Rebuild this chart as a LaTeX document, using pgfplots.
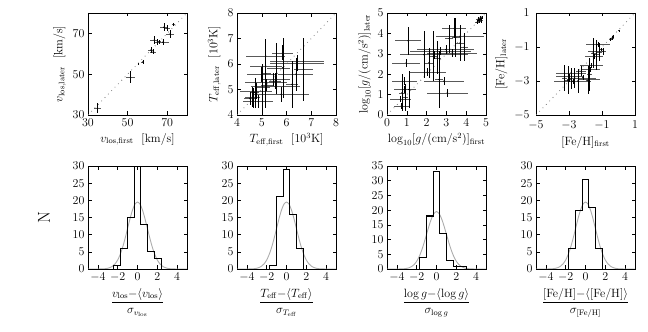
\documentclass[border=0pt]{standalone}
\usepackage{pgfplots}
\pgfplotsset{compat=1.18}
\usepackage{pgfplotstable}

\pgfplotstableread{
x y ex ey
34.8 33.5 2.0 2.5
51.5 48.5 2.2 3.0
57.7 56.0 0.8 0.8
55.5 55.0 0.4 0.4
61.8 61.8 1.5 1.5
63.0 61.0 1.5 1.2
63.5 66.8 2.0 2.0
65.0 65.8 1.5 1.5
67.8 65.7 3.3 1.5
68.3 73.0 2.0 2.0
70.0 72.5 1.5 1.5
71.5 69.8 2.0 2.0
73.2 74.5 0.7 0.7
66.0 66.0 1.0 1.0
}\vlos

\pgfplotstableread{
x y ex ey
4.52 4.64 0.24 0.26
4.65 4.68 0.20 0.39
4.72 4.88 0.15 0.59
4.86 4.52 0.61 0.25
4.76 4.94 0.65 0.30
5.03 5.07 0.30 0.92
5.16 5.63 0.20 1.34
5.00 5.60 0.61 0.30
5.20 5.18 0.25 0.25
5.47 5.40 0.20 0.26
5.54 5.33 0.25 0.30
5.16 5.27 0.85 0.30
5.57 5.14 0.99 0.25
5.60 5.40 0.54 0.20
5.60 5.82 0.40 1.01
5.85 5.85 0.30 1.18
6.22 5.20 0.25 0.92
6.38 5.60 0.71 0.65
6.69 5.79 0.40 1.24
6.42 6.01 1.09 0.30
6.42 6.12 1.09 0.25
5.16 5.92 0.65 0.25
5.16 6.31 0.78 0.35
5.84 6.44 0.44 0.30
5.78 4.81 1.12 0.30
4.62 4.70 0.30 0.40
}\teff

\pgfplotstableread{
x y ex ey
4.66 4.60 0.10 0.10
4.60 4.70 0.12 0.10
4.75 4.65 0.10 0.12
4.70 4.75 0.08 0.08
4.55 4.55 0.10 0.10
4.80 4.80 0.07 0.07
1.06 3.64 0.68 0.69
3.40 4.25 0.60 0.50
3.47 3.80 0.20 0.94
3.14 3.74 0.20 0.69
3.69 3.53 0.20 0.90
3.90 3.33 0.20 0.69
3.69 3.86 1.23 0.20
2.71 3.13 1.53 0.20
2.97 3.21 1.44 0.20
2.37 2.96 1.70 0.20
3.30 3.05 1.27 0.20
2.34 2.88 0.20 1.22
2.54 2.80 0.20 0.81
2.63 1.74 0.20 1.38
0.97 2.56 0.72 0.20
1.86 2.96 0.20 1.14
2.12 2.56 0.20 0.73
2.03 2.10 0.93 0.20
0.89 1.66 0.64 0.20
2.88 1.66 1.02 0.20
3.05 1.09 1.02 0.20
0.76 1.09 0.15 0.90
1.10 1.25 0.15 0.90
0.89 1.25 0.55 0.15
0.68 0.77 0.51 0.15
0.72 0.44 0.38 0.15
0.93 0.85 0.15 0.65
}\logg

\pgfplotstableread{
x y ex ey
0.04 -0.04 0.05 0.05
-0.39 -0.47 0.10 0.12
-0.47 -0.57 0.10 0.10
-0.33 -0.37 0.08 0.08
-1.54 -1.35 0.15 0.88
-1.34 -1.45 0.15 0.88
-1.14 -1.30 0.15 0.54
-1.24 -0.86 0.71 0.15
-1.34 -1.25 0.51 0.15
-1.49 -1.54 0.56 0.15
-1.04 -1.15 0.10 0.10
-0.93 -1.25 0.20 0.20
-1.75 -2.60 0.15 0.98
-1.65 -2.07 0.71 0.15
-1.70 -2.32 0.56 0.15
-3.27 -2.81 0.15 0.78
-3.07 -2.96 0.15 0.83
-2.87 -2.86 0.15 0.63
-2.66 -2.82 0.15 0.59
-2.46 -3.00 0.15 0.68
-2.87 -2.52 0.91 0.15
-2.97 -2.71 0.81 0.15
-2.77 -3.01 1.12 0.15
-2.16 -2.81 0.81 0.15
-1.85 -2.96 0.15 0.83
-1.80 -2.91 0.66 0.15
-2.97 -2.91 0.15 0.15
-2.26 -2.42 0.30 0.30
}\feh

\pgfplotstableread{
x y
-5.00 0.0001
-4.75 0.0002
-4.50 0.0008
-4.25 0.0023
-4.00 0.0065
-3.75 0.017
-3.50 0.043
-3.25 0.099
-3.00 0.216
-2.75 0.444
-2.50 0.856
-2.25 1.55
-2.00 2.64
-1.75 4.22
-1.50 6.33
-1.25 8.93
-1.00 11.83
-0.75 14.72
-0.50 17.21
-0.25 18.90
0.00 19.50
0.25 18.90
0.50 17.21
0.75 14.72
1.00 11.83
1.25 8.93
1.50 6.33
1.75 4.22
2.00 2.64
2.25 1.55
2.50 0.856
2.75 0.444
3.00 0.216
3.25 0.099
3.50 0.043
3.75 0.017
4.00 0.0065
4.25 0.0023
4.50 0.0008
4.75 0.0002
5.00 0.0001
}\gauss

\newcommand{\twelve}{\fontsize{12}{14}\selectfont}
\pgfplotsset{
  myaxis/.style={scale only axis, width=99pt, tick align=inside, tick pos=both,
    major tick length=3.5pt, tick style={line width=0.5pt, black},
    axis line style={line width=0.8pt}, anchor=south west,
    every tick label/.append style={font=\twelve},
    label style={font=\twelve}},
  toprow/.style={myaxis, height=102pt},
  botrow/.style={myaxis, height=103pt, xmin=-5, xmax=5, ymin=0,
    xtick={-4,-2,0,2,4}},
  diag/.style={gray, line width=0.8pt, dash pattern=on 0.8pt off 4pt},
  hist/.style={black, line width=1.1pt, sharp plot},
  gcurve/.style={gray!65, line width=0.9pt, smooth},
}
\newcommand{\errpts}[1]{%
  \addplot[gray!70!black, only marks, mark=*, mark size=0.01pt, error bars/.cd, x dir=both,
    x explicit, error mark=none,
    error bar style={line width=0.5pt, gray!70!black}]
    table[x=x, y=y, x error=ex] {#1};
  \addplot[black, only marks, mark=*, mark size=0.4pt, error bars/.cd,
    y dir=both, y explicit, error mark=none,
    error bar style={line width=0.55pt, black}]
    table[x=x, y=y, y error=ey] {#1};
}

\begin{document}
\begin{tikzpicture}
\path[use as bounding box] (0,0) rectangle (648pt,332pt);

% ---------------- top row ----------------
\begin{axis}[toprow, at={(88pt,217pt)},
  xmin=30, xmax=80, ymin=30, ymax=80, xtick={30,50,70}, ytick={30,50,70},
  xlabel={$v_{\rm los,first}$\ \ [km/s]}, ylabel={$v_{\rm los,later}$\ \ [km/s]}]
\addplot[diag] coordinates {(30,30) (80,80)};
\errpts{\vlos}
\end{axis}

\begin{axis}[toprow, at={(237pt,217pt)},
  xmin=4, xmax=8, ymin=4, ymax=8, xtick={4,5,6,7,8}, ytick={4,5,6,7,8},
  xlabel={$T_{\rm eff,first}$\ \ [$10^3$K]}, ylabel={$T_{\rm eff,later}$\ \ [$10^3$K]}]
\addplot[diag] coordinates {(4,4) (8,8)};
\errpts{\teff}
\end{axis}

\begin{axis}[toprow, at={(387pt,217pt)},
  xmin=0, xmax=5, ymin=0, ymax=5, xtick={0,1,2,3,4,5}, ytick={0,1,2,3,4,5},
  xlabel={$\log_{10}[g/({\rm cm/s^2})]_{\rm first}$},
  ylabel={$\log_{10}[g/({\rm cm/s^2})]_{\rm later}$}]
\addplot[diag] coordinates {(0,0) (5,5)};
\errpts{\logg}
\end{axis}

\begin{axis}[toprow, at={(536pt,217pt)},
  xmin=-5, xmax=1, ymin=-5, ymax=1, xtick={-5,-3,-1,1}, ytick={-5,-3,-1,1},
  xticklabel style={yshift=-2pt}, yticklabel style={xshift=-3pt},
  xlabel={$[{\rm Fe/H}]_{\rm first}$}, ylabel={$[{\rm Fe/H}]_{\rm later}$}]
\addplot[diag] coordinates {(-5,-5) (1,1)};
\errpts{\feh}
\end{axis}

% ---------------- bottom row ----------------
\begin{axis}[botrow, at={(88pt,63pt)}, ymax=30, ytick={0,5,10,15,20,25,30},
  ylabel={\LARGE N}, ylabel style={at={(axis description cs:-0.445,0.5)}, anchor=center},
  xlabel={$\displaystyle\frac{v_{\rm los}{-}\langle v_{\rm los}\rangle}{\sigma_{v_{\rm los}}}$}]
\addplot[gcurve] table {\gauss};
\addplot[hist] coordinates {(-2.38,0) (-2.38,1) (-1.70,1) (-1.70,6) (-1.02,6) (-1.02,15)
  (-0.34,15) (-0.34,35) (0.34,35) (0.34,13) (1.02,13) (1.02,5) (1.70,5) (1.70,3)
  (2.38,3) (2.38,0)};
\end{axis}

\begin{axis}[botrow, at={(237pt,63pt)}, ymax=30, ytick={0,5,10,15,20,25,30},
  xlabel={$\displaystyle\frac{T_{\rm eff}{-}\langle T_{\rm eff}\rangle}{\sigma_{T_{\rm eff}}}$}]
\addplot[gcurve] table {\gauss};
\addplot[hist] coordinates {(-1.70,0) (-1.70,1) (-1.02,1) (-1.02,21) (-0.34,21)
  (-0.34,29) (0.34,29) (0.34,16) (1.02,16) (1.02,6) (1.70,6) (1.70,0)};
\end{axis}

\begin{axis}[botrow, at={(387pt,63pt)}, ymax=35, ytick={0,5,10,15,20,25,30,35},
  xlabel={$\displaystyle\frac{\log g{-}\langle\log g\rangle}{\sigma_{\log g}}$}]
\addplot[gcurve] table {\gauss};
\addplot[hist] coordinates {(-1.70,0) (-1.70,4) (-1.02,4) (-1.02,18) (-0.34,18)
  (-0.34,33) (0.34,33) (0.34,12) (1.02,12) (1.02,3) (1.70,3) (1.70,1) (2.38,1)
  (3.06,1) (3.06,0)};
\end{axis}

\begin{axis}[botrow, at={(536pt,63pt)}, ymax=30, ytick={0,5,10,15,20,25,30},
  xlabel={$\displaystyle\frac{[{\rm Fe/H}]{-}\langle[{\rm Fe/H}]\rangle}{\sigma_{[{\rm Fe/H}]}}$}]
\addplot[gcurve] table {\gauss};
\addplot[hist] coordinates {(-1.70,0) (-1.70,6) (-1.02,6) (-1.02,17) (-0.34,17)
  (-0.34,26) (0.34,26) (0.34,18) (1.02,18) (1.02,6) (1.70,6) (1.70,0)};
\end{axis}
\end{tikzpicture}
\end{document}
